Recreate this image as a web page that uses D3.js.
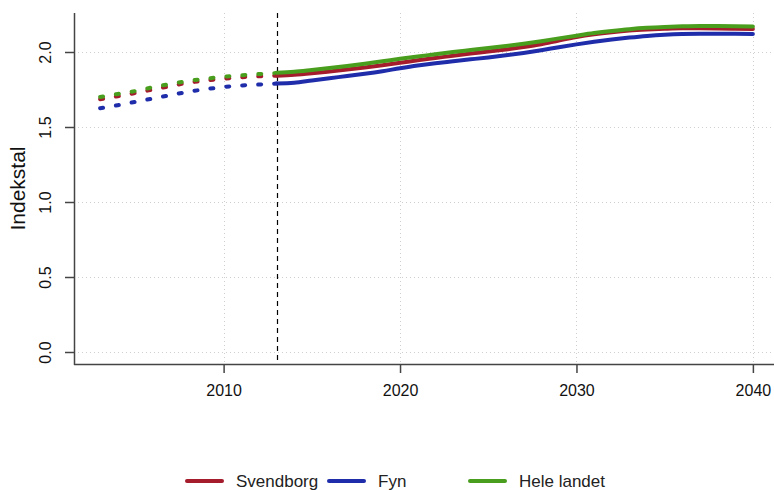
<!DOCTYPE html>
<html>
<head>
<meta charset="utf-8">
<script src="https://cdn.jsdelivr.net/npm/d3@7"></script>
<style>
  html, body { margin: 0; padding: 0; background: #fff; }
  svg { display: block; font-family: "Liberation Sans", Arial, sans-serif; }
</style>
</head>
<body>
<svg id="chart" width="774" height="490"></svg>
<script>
// ---- data ----
const histYears = [2003, 2004, 2005, 2006, 2007, 2008, 2009, 2010, 2011, 2012, 2013];
const histSvendborg = [1.685, 1.705, 1.727, 1.75, 1.773, 1.795, 1.81, 1.822, 1.832, 1.838, 1.843];
const histFyn       = [1.625, 1.645, 1.668, 1.69, 1.713, 1.735, 1.752, 1.767, 1.777, 1.783, 1.79];
const histLandet    = [1.70, 1.72, 1.74, 1.765, 1.787, 1.807, 1.822, 1.835, 1.845, 1.853, 1.86];

const progYears = [2013, 2014, 2015, 2016, 2017, 2018, 2019, 2020, 2021, 2022, 2023, 2024, 2025, 2026,
                   2027, 2028, 2029, 2030, 2031, 2032, 2033, 2034, 2035, 2036, 2037, 2038, 2039, 2040];
const progSvendborg = [1.842, 1.848, 1.858, 1.87, 1.883, 1.897, 1.912, 1.928, 1.945, 1.96, 1.975, 1.99, 2.003, 2.017,
                       2.033, 2.052, 2.077, 2.1, 2.118, 2.132, 2.143, 2.15, 2.155, 2.158, 2.158, 2.157, 2.155, 2.153];
const progFyn       = [1.79, 1.795, 1.81, 1.825, 1.84, 1.855, 1.872, 1.892, 1.91, 1.925, 1.938, 1.951, 1.964, 1.978,
                       1.994, 2.012, 2.032, 2.051, 2.068, 2.083, 2.096, 2.107, 2.115, 2.12, 2.122, 2.122, 2.121, 2.12];
const progLandet    = [1.862, 1.868, 1.88, 1.893, 1.907, 1.922, 1.938, 1.955, 1.97, 1.985, 2.0, 2.013, 2.026, 2.04,
                       2.055, 2.072, 2.091, 2.109, 2.126, 2.14, 2.152, 2.161, 2.167, 2.171, 2.173, 2.173, 2.172, 2.17];

const seriesNames = ["Svendborg", "Fyn", "Hele landet"];
const seriesColors = ["#A51C2C", "#1F2DAA", "#4A9E1E"];
const xTicks = [2010, 2020, 2030, 2040];
const yTicks = [0, 0.5, 1.0, 1.5, 2.0];
const yLabel = "Indekstal";
const splitYear = 2013;

// ---- layout ----
const svg = d3.select("#chart");
const plotLeft = 74, plotTop = 13, plotBottom = 364;
const x = d3.scaleLinear().domain([2001.52, 2041.48]).range([plotLeft, 779]);
const y = d3.scaleLinear().domain([-0.08, 2.26]).range([plotBottom, plotTop]);

// gridlines
const grid = svg.append("g").attr("stroke", "#cfcfcf").attr("stroke-width", 1).attr("stroke-dasharray", "1,3");
grid.selectAll("line.v").data(xTicks).join("line").attr("class", "v")
  .attr("x1", d => Math.round(x(d)) + 0.5).attr("x2", d => Math.round(x(d)) + 0.5)
  .attr("y1", plotTop).attr("y2", plotBottom);
grid.selectAll("line.h").data(yTicks).join("line").attr("class", "h")
  .attr("y1", d => Math.round(y(d)) + 0.5).attr("y2", d => Math.round(y(d)) + 0.5)
  .attr("x1", plotLeft).attr("x2", 779);

// vertical dashed line at split year
svg.append("line")
  .attr("x1", Math.round(x(splitYear)) + 0.5).attr("x2", Math.round(x(splitYear)) + 0.5)
  .attr("y1", plotTop).attr("y2", plotBottom)
  .attr("stroke", "#000").attr("stroke-width", 1.2).attr("stroke-dasharray", "5,4");

// lines
const hist = [histSvendborg, histFyn, histLandet];
const prog = [progSvendborg, progFyn, progLandet];
const line = d3.line().x(d => x(d[0])).y(d => y(d[1])).curve(d3.curveMonotoneX);

const order = [0, 1, 2];
order.forEach(i => {
  svg.append("path")
    .datum(histYears.map((yr, k) => [yr, hist[i][k]]))
    .attr("d", line)
    .attr("fill", "none")
    .attr("stroke", seriesColors[i])
    .attr("stroke-width", 4)
    .attr("stroke-linecap", "round")
    .attr("stroke-dasharray", "3,13");
});
order.forEach(i => {
  svg.append("path")
    .datum(progYears.map((yr, k) => [yr, prog[i][k]]))
    .attr("d", line)
    .attr("fill", "none")
    .attr("stroke", seriesColors[i])
    .attr("stroke-width", 4)
    .attr("stroke-linejoin", "round")
    .attr("stroke-linecap", "round");
});

// axes
const axisColor = "#444";
const xAxis = svg.append("g").attr("transform", `translate(0,${plotBottom})`)
  .call(d3.axisBottom(x).tickValues(xTicks).tickFormat(d3.format("d")).tickSizeOuter(0).tickSize(9).tickPadding(6));
xAxis.select(".domain").remove();
xAxis.append("line").attr("x1", plotLeft).attr("x2", 774).attr("y1", 0.5).attr("y2", 0.5)
  .attr("stroke", axisColor).attr("stroke-width", 1.5);
xAxis.selectAll(".tick line").attr("stroke", axisColor).attr("stroke-width", 1.5);
xAxis.selectAll(".tick text").attr("font-size", 16).attr("fill", "#111")
  .attr("font-family", "Liberation Sans, Arial, sans-serif").attr("dy", "1.05em");

const yAxis = svg.append("g").attr("transform", `translate(${plotLeft},0)`)
  .call(d3.axisLeft(y).tickValues(yTicks).tickFormat(d3.format(".1f")).tickSizeOuter(0).tickSize(9));
yAxis.select(".domain").remove();
yAxis.append("line").attr("x1", 0.5).attr("x2", 0.5).attr("y1", plotTop).attr("y2", plotBottom + 1)
  .attr("stroke", axisColor).attr("stroke-width", 1.5);
yAxis.selectAll(".tick line").attr("stroke", axisColor).attr("stroke-width", 1.5);
yAxis.selectAll(".tick text")
  .attr("font-size", 16).attr("fill", "#111")
  .attr("font-family", "Liberation Sans, Arial, sans-serif")
  .attr("x", null).attr("dy", null)
  .attr("text-anchor", "middle")
  .attr("transform", "translate(-23,0) rotate(-90)");

// y label
svg.append("text")
  .attr("transform", `translate(25,${(plotTop + plotBottom) / 2}) rotate(-90)`)
  .attr("text-anchor", "middle")
  .attr("font-size", 21).attr("fill", "#111")
  .text(yLabel);

// legend
const legendX = [187, 329, 470];
const legend = svg.append("g");
seriesNames.forEach((name, i) => {
  legend.append("line")
    .attr("x1", legendX[i]).attr("x2", legendX[i] + 35)
    .attr("y1", 481).attr("y2", 481)
    .attr("stroke", seriesColors[i]).attr("stroke-width", 4).attr("stroke-linecap", "round");
  legend.append("text")
    .attr("x", legendX[i] + 49).attr("y", 487)
    .attr("font-size", 17).attr("fill", "#222")
    .text(name);
});
</script>
</body>
</html>
